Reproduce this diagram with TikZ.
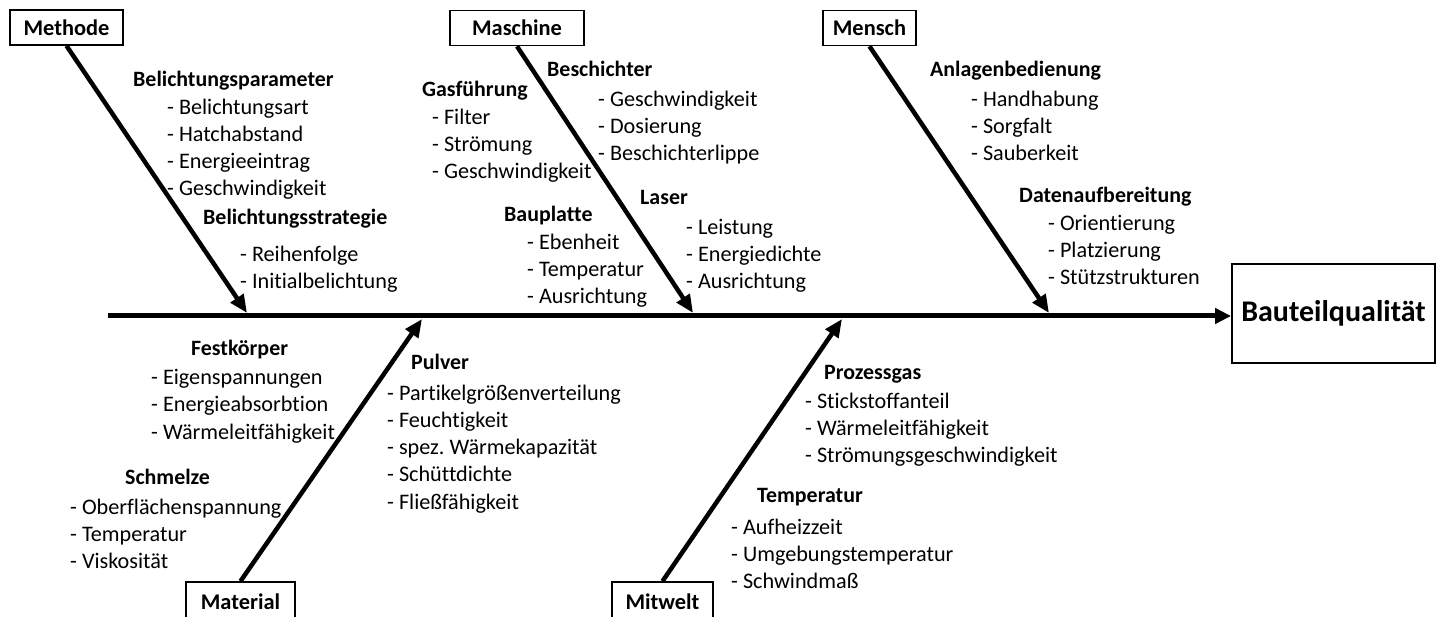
\documentclass[tikz,border=0pt]{standalone}
\usepackage{fontspec}
\setmainfont{Carlito}[Ligatures=NoCommon]
\usetikzlibrary{arrows.meta}
\frenchspacing

\tikzset{
  causebox/.style={draw, line width=1.6pt, inner sep=0pt, minimum height=35pt,
    font=\bfseries\fontsize{22.4}{26}\selectfont},
  effectbox/.style={draw, line width=1.8pt, inner sep=0pt, minimum width=203pt, minimum height=99pt,
    font=\bfseries\fontsize{30}{36}\selectfont},
  spine/.style={line width=5pt, -{Triangle[length=16pt,width=15pt]}},
  bone/.style={line width=4.5pt, -{Triangle[length=18pt,width=15pt]}},
  head/.style={anchor=base west, inner sep=0pt, font=\bfseries\fontsize{21.9}{26}\selectfont},
  item/.style={anchor=base west, inner sep=0pt, font=\fontsize{22.2}{26}\selectfont},
}

\begin{document}
\begin{tikzpicture}[x=1pt,y=-1pt]
	\useasboundingbox (0,0) rectangle (1441,617);
	\clip (0,0) rectangle (1441,617);

	%Kopf und Hauptgraete
	\node[effectbox] (bq) at (1333.5,313.5) {Bauteilqualität};
	\coordinate (tail) at (108,316);
	\draw[spine] (tail) -- (tail -| bq.west);

	%Ursachen oben
	\node[causebox, minimum width=113pt] (meth) at (66.5,27.5) {Methode};
	\node[causebox, minimum width=134pt] (masch) at (517,28) {Maschine};
	\node[causebox, minimum width=93pt] (mensch) at (869.5,28) {Mensch};
	%Ursachen unten (Kasten laeuft ueber den Rand)
	\node[causebox, minimum width=109pt, minimum height=40pt] (mat) at (240.5,602) {Material};
	\node[causebox, minimum width=101pt, minimum height=40pt] (mitw) at (662.5,602) {Mitwelt};

	%Spitzen auf der Hauptgraete
	\coordinate (tmeth) at (247,313);
	\coordinate (tmasch) at (693,313);
	\coordinate (tmensch) at (1049,313);
	\coordinate (tmat) at (422,319);
	\coordinate (tmitw) at (842,319);

	\draw[bone] (meth.south) -- (tmeth);
	\draw[bone] (masch.south) -- (tmasch);
	\draw[bone] (mensch.south) -- (tmensch);
	\draw[bone] (mat.north) -- (tmat);
	\draw[bone] (mitw.north) -- (tmitw);

	%Methode
	\node[head] (bpar) at (133,87) {Belichtungsparameter};
	\foreach \txt [count=\i from 0] in {Belichtungsart,Hatchabstand,Energieeintrag,Geschwindigkeit}
		\node[item] (bpar\i) at (167,{115+26.7*\i}) {- \txt};
	\node[head] (bstr) at (203,225) {Belichtungsstrategie};
	\foreach \txt [count=\i from 0] in {Reihenfolge,Initialbelichtung}
		\node[item] (bstr\i) at (240,{262+27*\i}) {- \txt};

	%Maschine
	\node[head] (gas) at (422,97) {Gasführung};
	\foreach \txt [count=\i from 0] in {Filter,Strömung,Geschwindigkeit}
		\node[item] (gas\i) at (432,{125+27*\i}) {- \txt};
	\node[head] (besch) at (547,77) {Beschichter};
	\foreach \txt [count=\i from 0] in {Geschwindigkeit,Dosierung,Beschichterlippe}
		\node[item] (besch\i) at (598,{107+27*\i}) {- \txt};
	\node[head] (laser) at (640,205) {Laser};
	\foreach \txt [count=\i from 0] in {Leistung,Energiedichte,Ausrichtung}
		\node[item] (laser\i) at (686,{235+27*\i}) {- \txt};
	\node[head] (bplatte) at (504,222) {Bauplatte};
	\foreach \txt [count=\i from 0] in {Ebenheit,Temperatur,Ausrichtung}
		\node[item] (bplatte\i) at (527,{250+27*\i}) {- \txt};

	%Mensch
	\node[head] (anl) at (930,77) {Anlagenbedienung};
	\foreach \txt [count=\i from 0] in {Handhabung,Sorgfalt,Sauberkeit}
		\node[item] (anl\i) at (971,{107+27*\i}) {- \txt};
	\node[head] (daten) at (1019,203) {Datenaufbereitung};
	\foreach \txt [count=\i from 0] in {Orientierung,Platzierung,Stützstrukturen}
		\node[item] (daten\i) at (1048,{231+27*\i}) {- \txt};

	%Material
	\node[head] (fest) at (191,356) {Festkörper};
	\foreach \txt [count=\i from 0] in {Eigenspannungen,Energieabsorbtion,Wärmeleitfähigkeit}
		\node[item] (fest\i) at (151,{385+27*\i}) {- \txt};
	\node[head] (schm) at (125,485) {Schmelze};
	\foreach \txt [count=\i from 0] in {Oberflächenspannung,Temperatur,Viskosität}
		\node[item] (schm\i) at (70,{514+27*\i}) {- \txt};
	\node[head] (pulv) at (411,370) {Pulver};
	\foreach \txt [count=\i from 0] in {Partikelgrößenverteilung,Feuchtigkeit,spez. Wärmekapazität,Schüttdichte,Fließfähigkeit}
		\node[item] (pulv\i) at (387,{401+27*\i}) {- \txt};

	%Mitwelt
	\node[head] (gasp) at (824,380) {Prozessgas};
	\foreach \txt [count=\i from 0] in {Stickstoffanteil,Wärmeleitfähigkeit,Strömungsgeschwindigkeit}
		\node[item] (gasp\i) at (805,{409+27*\i}) {- \txt};
	\node[head] (temp) at (757,503) {Temperatur};
	\foreach \txt [count=\i from 0] in {Aufheizzeit,Umgebungstemperatur,Schwindmaß}
		\node[item] (temp\i) at (731,{534+27*\i}) {- \txt};
\end{tikzpicture}
\end{document}
